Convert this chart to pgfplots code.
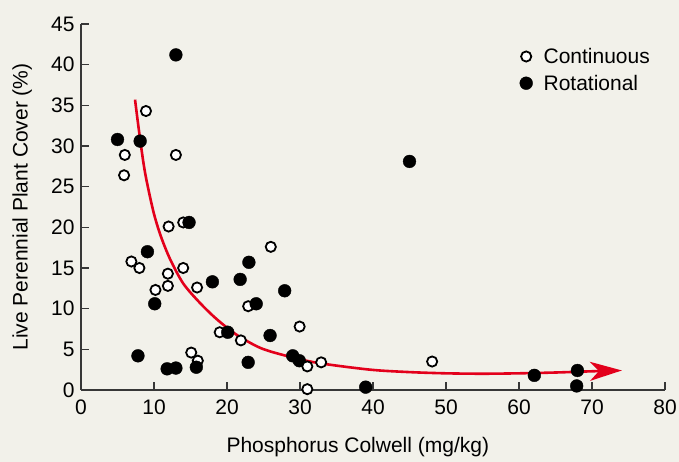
\documentclass[border=0pt]{standalone}
\usepackage{fontspec}
\setmainfont{Liberation Sans}
\usepackage{pgfplots}
\pgfplotsset{compat=1.18}
\usetikzlibrary{arrows.meta}
\definecolor{bg}{RGB}{242,241,234}
\definecolor{fitred}{RGB}{227,0,27}
\definecolor{axisgray}{RGB}{55,55,55}
\newcommand{\chartfont}{\fontsize{21bp}{25bp}\selectfont}

\begin{document}
\begin{tikzpicture}[x=1bp,y=1bp]
\path[use as bounding box, fill=bg] (0,0) rectangle (679,462);
\begin{axis}[
  at={(81bp,72bp)}, anchor=south west,
  scale only axis, width=584bp, height=366bp,
  xmin=0, xmax=80, ymin=0, ymax=45,
  axis x line=bottom, axis y line=left,
  axis line style={-, axisgray, line width=1.3bp},
  x axis line style={-}, y axis line style={-},
  xtick={0,10,...,80}, ytick={0,5,...,45},
  tick align=inside, major tick length=8bp,
  tick style={axisgray, line width=1.3bp},
  /pgf/number format/assume math mode=true,
  ticklabel style={font=\chartfont},
  xticklabel style={yshift=-6bp},
  yticklabel style={xshift=-3bp},
  label style={font=\chartfont},
  xlabel={Phosphorus Colwell (mg/kg)},
  ylabel={Live Perennial Plant Cover (\%)},
  xlabel style={at={(axis description cs:0.474,-0.128)}, anchor=north, inner sep=0pt},
  ylabel style={at={(axis description cs:-0.118,0.5)}, anchor=north, inner sep=0pt},
  legend style={draw=none, fill=none, inner sep=0pt, font=\chartfont,
    row sep=6bp, column sep=9bp,
    at={(axis description cs:0.751,0.94)}, anchor=north west},
  legend cell align=left,
  legend image code/.code={\draw[#1] plot coordinates {(6bp,0bp)};},
]
% Continuous (open circles)
\addplot[only marks, mark=*, mark size=5.1bp, mark options={fill=white, draw=black, line width=1.8bp}]
coordinates {
  (5.9,26.4) (6.0,28.9) (8.9,34.3) (13.0,28.9) (12.0,20.1) (14.0,20.6)
  (6.9,15.8) (8.0,15.0) (11.9,14.3) (14.0,15.0) (10.2,12.3) (11.9,12.8)
  (15.9,12.6) (26.0,17.6) (22.9,10.3) (29.95,7.8) (19.0,7.1) (21.9,6.1)
  (32.9,3.4) (31.0,0.1) (15.1,4.6) (16.0,3.6) (48.1,3.5)
};
% Rotational (filled circles)
\addplot[only marks, mark=*, mark size=6.4bp, mark options={fill=black, draw=none}]
coordinates {
  (13.0,41.2) (5.0,30.8) (8.1,30.6) (45.0,28.1) (14.8,20.6) (9.1,17.0)
  (10.1,10.6) (18.0,13.3) (21.8,13.6) (23.0,15.7) (27.9,12.2) (24.0,10.6)
  (25.9,6.7) (20.1,7.1) (22.9,3.4) (29.0,4.2) (29.9,3.6) (7.8,4.2)
  (11.8,2.6) (13.0,2.7) (15.8,2.8) (39.0,0.35) (62.1,1.8) (68.0,2.4)
  (67.9,0.5)
};
% open point drawn over a filled one
\addplot[only marks, mark=*, mark size=5.1bp, mark options={fill=white, draw=black, line width=1.8bp}, forget plot]
coordinates {(31.0,2.9)};
% fitted curve
\addplot[fitred, line width=2.6bp, smooth, forget plot,
  -{Stealth[length=32bp, width=19bp, inset=9bp]}]
coordinates {
  (7.4,35.7) (8.1,30.8) (8.8,26.6) (9.9,22.0) (10.9,19.0) (12.2,16.1)
  (14.0,13.1) (16.3,10.7) (18.6,8.7) (21.3,6.8) (24.5,5.2) (27.7,4.3)
  (32.3,3.35) (39.6,2.5) (45,2.2) (50,2.05) (55,2.0) (60,2.05)
  (65,2.15) (70,2.3) (74.1,2.4)
};
\legend{Continuous, Rotational}
\end{axis}
\end{tikzpicture}
\end{document}
